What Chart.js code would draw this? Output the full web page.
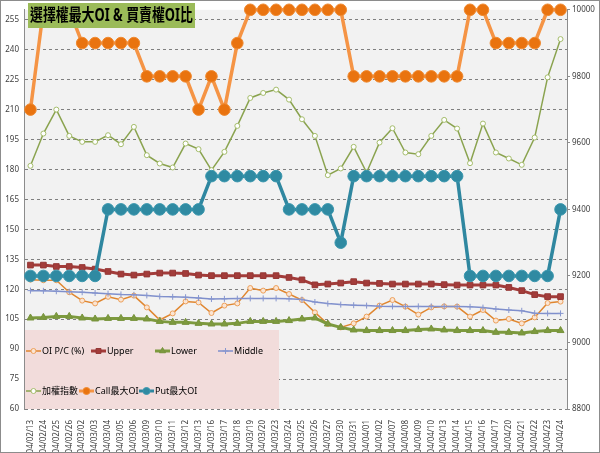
<!DOCTYPE html>
<html>
<head>
<meta charset="utf-8">
<script src="https://cdn.jsdelivr.net/npm/chart.js@4/dist/chart.umd.min.js"></script>
<style>
  html, body { margin: 0; padding: 0; background: #fff; }
  #chart { display: block; }
</style>
</head>
<body>
<canvas id="chart" width="600" height="453"></canvas>
<script>
const dates = [
  '104/02/13', '104/02/24', '104/02/25', '104/02/26', '104/03/02', '104/03/03', '104/03/04',
  '104/03/05', '104/03/06', '104/03/09', '104/03/10', '104/03/11', '104/03/12', '104/03/13',
  '104/03/16', '104/03/17', '104/03/18', '104/03/19', '104/03/20', '104/03/23', '104/03/24',
  '104/03/25', '104/03/26', '104/03/27', '104/03/30', '104/03/31', '104/04/01', '104/04/02',
  '104/04/07', '104/04/08', '104/04/09', '104/04/10', '104/04/13', '104/04/14', '104/04/15',
  '104/04/16', '104/04/17', '104/04/20', '104/04/21', '104/04/22', '104/04/23', '104/04/24'
];

// left axis (%)
const pcRatio = [124.8, 124.5, 124.5, 118.5, 114.3, 112.9, 116.2, 114.8, 116.8, 110.9,
  104.6, 107.9, 113.9, 113.4, 108.1, 111.8, 112.9, 120.6, 119.3, 120.6,
  117.6, 114.6, 108.4, 102.6, 100.9, 102.9, 106.3, 111.8, 114.6, 111.3,
  107.3, 110.9, 111.4, 111.3, 106.3, 109.6, 104.3, 105.1, 102.9, 105.9,
  113.1, 113.8];
const upper = [132.1, 132.1, 131.4, 131.4, 130.9, 130.1, 128.9, 127.6, 127.1, 127.6,
  128.1, 128.1, 127.9, 127.1, 126.8, 126.8, 126.8, 126.8, 126.8, 126.8,
  125.9, 124.7, 122.2, 122.6, 123.1, 123.8, 123.1, 122.9, 122.6, 122.6,
  122.6, 122.6, 122.3, 122.1, 122.1, 122.1, 122.1, 120.9, 119.3, 117.3,
  116.3, 116.3];
const lower = [105.6, 105.9, 106.4, 106.4, 105.6, 105.1, 105.4, 105.4, 105.4, 105.1,
  103.9, 103.4, 103.4, 102.9, 102.6, 102.6, 102.9, 103.9, 103.9, 103.9,
  104.3, 105.1, 105.6, 102.6, 100.9, 99.6, 99.3, 99.3, 99.3, 99.3,
  99.8, 100.1, 99.6, 99.3, 99.3, 99.3, 98.4, 98.4, 98.1, 98.8,
  99.3, 99.3];
const middle = [119.3, 119.2, 119.0, 118.8, 118.5, 118.1, 117.8, 117.4, 117.2, 116.9,
  116.4, 116.2, 116.0, 115.6, 115.1, 115.2, 115.3, 115.4, 115.4, 115.4,
  115.2, 114.8, 113.6, 112.8, 112.3, 112.0, 111.8, 111.5, 111.4, 111.4,
  111.4, 111.4, 111.4, 111.3, 111.2, 110.8, 110.1, 109.6, 109.2, 108.0,
  107.9, 107.9];

// right axis (index points)
const taiex = [9531, 9628, 9700, 9621, 9603, 9603, 9623, 9596, 9648, 9563,
  9538, 9526, 9598, 9581, 9518, 9573, 9651, 9735, 9750, 9760,
  9730, 9671, 9621, 9503, 9523, 9588, 9511, 9601, 9644, 9571,
  9566, 9621, 9669, 9643, 9539, 9658, 9571, 9553, 9534, 9616,
  9797, 9912];
const callMaxOI = [9700, 10000, 10000, 10000, 9900, 9900, 9900, 9900, 9900, 9800,
  9800, 9800, 9800, 9700, 9800, 9700, 9900, 10000, 10000, 10000,
  10000, 10000, 10000, 10000, 10000, 9800, 9800, 9800, 9800, 9800,
  9800, 9800, 9800, 9800, 10000, 10000, 9900, 9900, 9900, 9900,
  10000, 10000];
const putMaxOI = [9200, 9200, 9200, 9200, 9200, 9200, 9400, 9400, 9400, 9400,
  9400, 9400, 9400, 9400, 9500, 9500, 9500, 9500, 9500, 9500,
  9400, 9400, 9400, 9400, 9300, 9500, 9500, 9500, 9500, 9500,
  9500, 9500, 9500, 9500, 9200, 9200, 9200, 9200, 9200, 9200,
  9200, 9400];

const leftTicks = { min: 60, max: 260, step: 15 };
const rightTicks = { min: 8800, max: 10000, step: 200 };

const FONT = "'Noto Sans', 'Noto Sans CJK TC', sans-serif";
const titleText = '選擇權最大OI & 買賣權OI比';

// frame, plot background
const backgroundPlugin = {
  id: 'background',
  beforeDraw(chart) {
    const { ctx, chartArea: a } = chart;
    ctx.save();
    ctx.fillStyle = '#fff';
    ctx.fillRect(0, 0, chart.width, chart.height);
    ctx.fillStyle = '#f2f2f2';
    ctx.fillRect(a.left, a.top, a.right - a.left, a.bottom - a.top);
    ctx.restore();
  },
  afterDraw(chart) {
    const ctx = chart.ctx;
    ctx.save();
    ctx.strokeStyle = '#8c8c8c';
    ctx.lineWidth = 1;
    ctx.strokeRect(0.5, 0.5, chart.width - 1, chart.height - 1);
    ctx.restore();
  }
};

// legend box inside plot area, two rows
const legendPlugin = {
  id: 'boxLegend',
  beforeDatasetsDraw(chart) {
    const { ctx, chartArea: a } = chart;
    const rows = [
      { y: 351, items: [[0, 26], [1, 91], [2, 155], [3, 218]] },
      { y: 391, items: [[4, 26], [5, 79], [6, 139]] }
    ];
    ctx.save();
    ctx.fillStyle = '#f2dcdb';
    ctx.fillRect(a.left + 1, 330, 254, a.bottom - 330);
    ctx.font = '9px ' + FONT;
    ctx.textBaseline = 'middle';
    rows.forEach(row => {
      row.items.forEach(([i, x]) => {
        const ds = chart.data.datasets[i];
        ctx.strokeStyle = ds.borderColor;
        ctx.lineWidth = Math.min(ds.borderWidth, 3);
        ctx.beginPath();
        ctx.moveTo(x, row.y);
        ctx.lineTo(x + 15, row.y);
        ctx.stroke();
        ctx.fillStyle = ds.pointBackgroundColor;
        ctx.strokeStyle = ds.pointBorderColor;
        ctx.lineWidth = ds.pointBorderWidth;
        Chart.helpers.drawPoint(ctx, {
          pointStyle: ds.pointStyle,
          radius: Math.min(ds.pointRadius, 3.5),
          borderWidth: ds.pointBorderWidth,
          rotation: 0
        }, x + 7.5, row.y);
        ctx.fillStyle = '#000';
        ctx.fillText(ds.label, x + 16, row.y);
      });
    });
    ctx.restore();
  }
};

const titlePlugin = {
  id: 'boxTitle',
  afterDraw(chart) {
    const ctx = chart.ctx;
    const box = { x: 28, y: 3, w: 167, h: 25 };
    ctx.save();
    ctx.fillStyle = '#9bbb59';
    ctx.fillRect(box.x, box.y, box.w, box.h);
    ctx.font = 'bold 17px ' + FONT;
    ctx.fillStyle = '#000';
    ctx.textBaseline = 'middle';
    const w = ctx.measureText(titleText).width;
    const sx = Math.min(1, (box.w - 4) / w);
    ctx.translate(box.x + 2, box.y + box.h / 2 + 1);
    ctx.scale(sx, 1);
    ctx.fillText(titleText, 0, 0);
    ctx.restore();
  }
};

const ctx = document.getElementById('chart');
new Chart(ctx, {
  type: 'line',
  data: {
    labels: dates,
    datasets: [
      {
        label: 'OI P/C (%)', data: pcRatio, yAxisID: 'y', order: 6,
        borderColor: '#e0862f', borderWidth: 1.5,
        pointStyle: 'circle', pointRadius: 2.5, pointBorderWidth: 1,
        pointBackgroundColor: '#fbe5d3', pointBorderColor: '#eda05a'
      },
      {
        label: 'Upper', data: upper, yAxisID: 'y', order: 5,
        borderColor: '#a33c3a', borderWidth: 3,
        pointStyle: 'rect', pointRadius: 4, pointBorderWidth: 1,
        pointBackgroundColor: '#a33c3a', pointBorderColor: '#953735'
      },
      {
        label: 'Lower', data: lower, yAxisID: 'y', order: 4,
        borderColor: '#7d9a3e', borderWidth: 3,
        pointStyle: 'triangle', pointRadius: 4, pointBorderWidth: 1,
        pointBackgroundColor: '#7d9a3e', pointBorderColor: '#77933c'
      },
      {
        label: 'Middle', data: middle, yAxisID: 'y', order: 3,
        borderColor: '#7f8fcc', borderWidth: 1.5,
        pointStyle: 'cross', pointRadius: 3, pointBorderWidth: 1,
        pointBackgroundColor: '#7f8fcc', pointBorderColor: '#8796cf'
      },
      {
        label: '加權指數', data: taiex, yAxisID: 'y1', order: 2,
        borderColor: '#8aa34f', borderWidth: 1.5,
        pointStyle: 'circle', pointRadius: 2.5, pointBorderWidth: 1,
        pointBackgroundColor: '#ffffff', pointBorderColor: '#a5bd6c'
      },
      {
        label: 'Call最大OI', data: callMaxOI, yAxisID: 'y1', order: 1, clip: false,
        borderColor: '#f59445', borderWidth: 3.5,
        pointStyle: 'circle', pointRadius: 5.8, pointBorderWidth: 1,
        pointBackgroundColor: '#e9730f', pointBorderColor: '#f08a30'
      },
      {
        label: 'Put最大OI', data: putMaxOI, yAxisID: 'y1', order: 0, clip: false,
        borderColor: '#2f87a0', borderWidth: 3.5,
        pointStyle: 'circle', pointRadius: 5.8, pointBorderWidth: 1,
        pointBackgroundColor: '#2f8aa2', pointBorderColor: '#3a97ae'
      }
    ]
  },
  options: {
    responsive: false,
    animation: false,
    events: [],
    layout: { padding: { top: 8, left: 0, right: 0, bottom: 0 } },
    elements: { line: { tension: 0 } },
    plugins: {
      legend: { display: false },
      tooltip: { enabled: false },
      title: { display: false }
    },
    scales: {
      x: {
        offset: true,
        grid: { display: false },
        border: { display: false },
        ticks: {
          autoSkip: false, maxRotation: 90, minRotation: 90,
          font: { size: 8, family: FONT }, color: '#404040', padding: 3
        },
        afterFit(scale) { scale.height = 44; }
      },
      y: {
        position: 'left',
        min: leftTicks.min, max: leftTicks.max,
        ticks: {
          stepSize: leftTicks.step,
          font: { size: 8, family: FONT }, color: '#404040', padding: 5
        },
        afterBuildTicks(scale) {
          scale.ticks = scale.ticks.filter(t => (t.value - leftTicks.min) % leftTicks.step === 0);
        },
        grid: { color: '#808080', lineWidth: 1, drawTicks: false },
        border: { display: true, color: '#8c8c8c', dash: [3, 3] },
        afterFit(scale) { scale.width = 24; }
      },
      y1: {
        position: 'right',
        min: rightTicks.min, max: rightTicks.max,
        ticks: {
          stepSize: rightTicks.step,
          font: { size: 8, family: FONT }, color: '#404040', padding: 2,
          callback: v => String(v)
        },
        grid: { drawOnChartArea: false, drawTicks: true, tickLength: 3, color: '#8c8c8c' },
        border: { display: true, color: '#8c8c8c' },
        afterFit(scale) { scale.width = 33; }
      }
    }
  },
  plugins: [backgroundPlugin, legendPlugin, titlePlugin]
});
</script>
</body>
</html>
